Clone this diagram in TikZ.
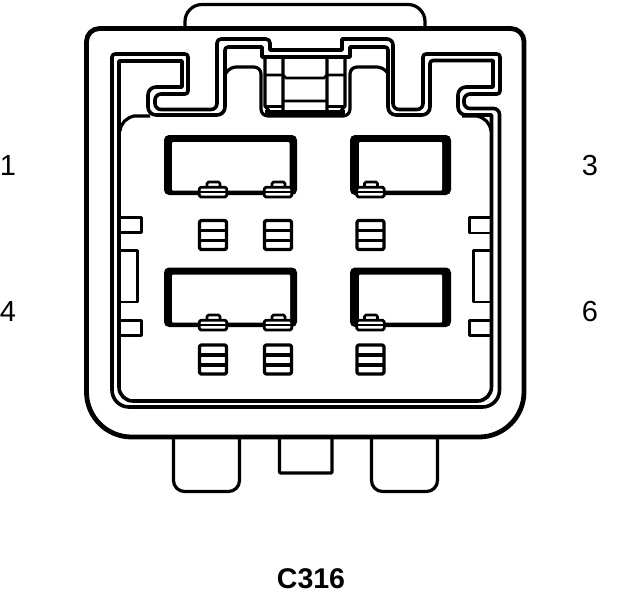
\documentclass[tikz,border=0pt]{standalone}
\usepackage{fontspec}
\setmainfont{Liberation Sans}
\tikzset{
  pin label/.style={font=\fontsize{29}{29}\selectfont,inner sep=0pt},
  title label/.style={font=\fontsize{28.5}{29}\selectfont\bfseries,inner sep=0pt},
  body line/.style={line width=4.8pt,line join=round,line cap=round},
  wall line/.style={line width=3.6pt,line join=round},
  thin line/.style={line width=3.2pt,line join=round},
  small line/.style={line width=2.8pt,line join=round}
}
\newcommand{\slotframe}[8]{% outer x1 y1 x2 y2, inner x1 y1 x2 y2
  \fill[black,rounded corners=5pt] (#1,#2) rectangle (#3,#4);
  \fill[white,rounded corners=1pt] (#5,#6) rectangle (#7,#8);}
\newcommand{\slottab}[2]{% left, top of box
  \begin{scope}[shift={(#1,#2)}]
    \draw[small line,fill=white,rounded corners=1.5pt] (9,1) -- (9,-4) -- (22,-4) -- (22,1);
    \draw[small line,fill=white,rounded corners=1.5pt] (1.3,1.3) rectangle (28.7,11);
    \draw[small line] (1.3,6) -- (28.7,6);
  \end{scope}}
\newcommand{\gridbox}[2]{% left, top
  \begin{scope}[shift={(#1,#2)}]
    \draw[thin line,rounded corners=1.5pt] (1.5,1.5) rectangle (28.5,30.5);
    \draw[thin line] (1.5,11.5) -- (28.5,11.5) (1.5,21.5) -- (28.5,21.5);
  \end{scope}}
\begin{document}
\begin{tikzpicture}[x=1pt,y=-1pt]
\useasboundingbox (0,0) rectangle (624,600);
% top tab
\draw[thin line] (185,27) [rounded corners=17pt] -- (185,4.5) -- (425,4.5) [sharp corners] -- (425,27);
% bottom tabs
\draw[thin line,rounded corners=11pt] (173.5,437) -- (173.5,491.5) -- (239.5,491.5) -- (239.5,437);
\draw[thin line,rounded corners=11pt] (371.5,437) -- (371.5,491.5) -- (437.5,491.5) -- (437.5,437);
\draw[thin line,rounded corners=1pt] (279.5,437) -- (279.5,473) -- (332,473) -- (332,437);
% connector body
\draw[body line] (86.5,200) [rounded corners=13pt] -- (86.5,28.5) -- (524,28.5) [rounded corners=45pt] -- (524,437) -- (86.5,437) -- cycle;
% outer wall contour
\draw[wall line] (112,250) [rounded corners=3pt] -- (112,54) -- (188,54) -- (188,94)
  [rounded corners=6pt] -- (155,94) -- (155,109.5) -- (217,109.5)
  [rounded corners=4pt] -- (217,39) -- (270,39) [sharp corners] -- (270,50) -- (342,50) -- (342,39)
  [rounded corners=6pt] -- (393,39) -- (393,109.5) -- (423,109.5) [rounded corners=3pt] -- (423,54) -- (500,54) -- (500,94)
  [rounded corners=6pt] -- (464,94) -- (464,108.5) -- (499.5,108.5) [sharp corners] -- (499.5,250)
  [rounded corners=17pt] -- (499.5,407) -- (112,407) -- cycle;
% inner wall contour
\draw[wall line] (119,250) [sharp corners] -- (119,61) -- (182,61) -- (182,87)
  [rounded corners=8pt] -- (148,87) -- (148,115) -- (225,115) [rounded corners=3pt] -- (225,47)
  [sharp corners] -- (262,47) -- (262,57) -- (350,57) -- (350,47)
  [rounded corners=3pt] -- (388,47) [rounded corners=8pt] -- (388,115) -- (430,115) [rounded corners=3pt] -- (430,60.5)
  [sharp corners] -- (493,60.5) -- (493,87) [rounded corners=8pt] -- (458,87) -- (458,115) [sharp corners] -- (491.5,115) -- (491.5,250)
  [rounded corners=14pt] -- (491.5,401) -- (119,401) -- cycle;
% panel corners
\draw[thin line] (150,116) -- (134,116) .. controls (126,118) and (121,123) .. (120,131);
\draw[thin line] (462,116) -- (477,116) .. controls (485,118) and (490,123) .. (491,131);
\draw[small line] (119,390) .. controls (121,396) and (125,399) .. (130,401);
\draw[small line] (491,390) .. controls (489,396) and (485,399) .. (480,401);
% arch round the latch
\draw[thin line] (226,73) [rounded corners=7pt] -- (229,67) -- (261,67) -- (261,116) -- (350,116) -- (350,67) -- (384,67) [sharp corners] -- (387,72);
% latch
\draw[thin line] (265,57) -- (265,106) -- (270,112) (283,57) -- (283,112) (327,57) -- (327,112) (345,57) -- (345,106) -- (340,112);
\draw[small line] (265,75) -- (283,75) (327,75) -- (345,75) (283,75) -- (286,78) -- (324,78) -- (327,75) (283,101) -- (327,101) (266,106.5) -- (283,106.5) (327,106.5) -- (344,106.5);
\draw[line width=5pt] (265,112.5) -- (345,112.5);
% side tabs left
\draw[small line] (120,217.5) -- (141.5,217.5) -- (141.5,232.5) -- (120,232.5);
\draw[small line] (120,250.5) -- (137.5,250.5) -- (137.5,302) -- (120,302);
\draw[small line] (120,320.5) -- (141.5,320.5) -- (141.5,335.5) -- (120,335.5);
% side tabs right
\draw[small line] (491,217.5) -- (469.5,217.5) -- (469.5,233) -- (491,233);
\draw[small line] (491,250.5) -- (473.5,250.5) -- (473.5,302) -- (491,302);
\draw[small line] (491,320.5) -- (469.5,320.5) -- (469.5,335.5) -- (491,335.5);
% slots
\slotframe{164}{135}{297}{195}{172}{142}{289.5}{190.5}
\slotframe{350}{135}{451}{195}{359}{142}{442}{190.5}
\slotframe{164}{267.5}{297}{327}{172}{274.5}{290}{322.5}
\slotframe{350}{267.5}{451}{327}{359}{274.5}{442}{322.5}
% tabs on slots
\slottab{198}{186}\slottab{263}{186}\slottab{355.5}{186}
\slottab{198}{319}\slottab{263}{319}\slottab{355.5}{319}
% grids
\gridbox{198}{219}\gridbox{263}{219}\gridbox{355.5}{219}
\gridbox{198}{343.5}\gridbox{263}{343.5}\gridbox{355.5}{343.5}
% labels
\node[pin label] (p1) at (8,166) {1};
\node[pin label] (p3) at (590,166) {3};
\node[pin label] (p4) at (8,312) {4};
\node[pin label] (p6) at (590,312) {6};
\node[title label] (title) at (311,579) {C316};
\end{tikzpicture}
\end{document}
